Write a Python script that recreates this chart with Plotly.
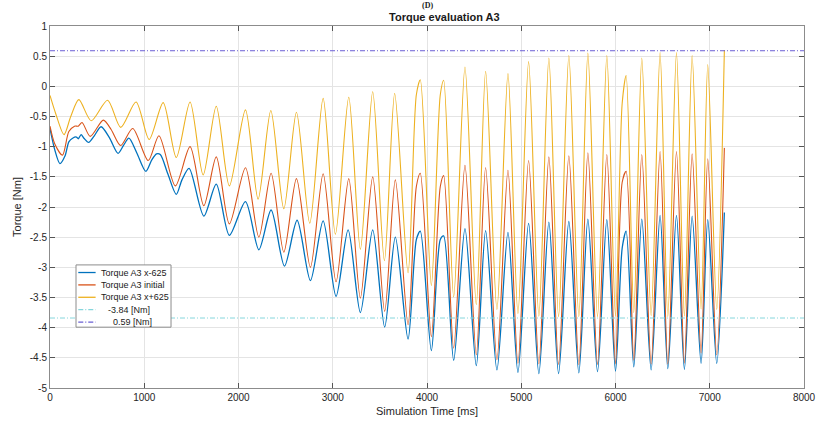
import plotly.graph_objects as go

# Torque A3 (time in ms, torque in Nm)
t_minus = [0, 50, 105, 160, 200, 240, 280, 300, 330, 360, 410, 470, 542, 630, 722, 780, 837, 920,
           1017, 1080, 1130, 1170, 1250, 1340, 1400, 1476, 1632, 1764, 1903, 2074, 2216, 2346, 2488,
           2622, 2763, 2898, 3035, 3163, 3293, 3424, 3551, 3664, 3799, 3887, 3929, 4046, 4141, 4177,
           4283, 4403, 4523, 4622, 4742, 4859, 4965, 5078, 5187, 5293, 5396, 5505, 5611, 5707, 5809,
           5908, 6000, 6071, 6113, 6194, 6279, 6378, 6473, 6555, 6647, 6731, 6813, 6908, 6979, 7074, 7155]
torque_minus = [-0.70, -1.05, -1.28, -1.15, -0.92, -0.86, -0.84, -0.87, -0.80, -0.86, -0.93, -0.82,
                -0.67, -0.85, -1.11, -0.98, -0.86, -1.10, -1.41, -1.22, -1.12, -1.13, -1.45, -1.79,
                -1.55, -1.36, -2.15, -1.62, -2.47, -1.91, -2.71, -2.05, -2.98, -2.22, -3.22, -2.23,
                -3.48, -2.38, -3.75, -2.38, -3.99, -2.50, -4.19, -2.54, -2.40, -4.38, -2.54, -2.48,
                -4.54, -2.36, -4.63, -2.39, -4.70, -2.42, -4.74, -2.27, -4.76, -2.25, -4.76, -2.24,
                -4.75, -2.20, -4.73, -2.21, -4.72, -2.68, -2.40, -4.65, -2.20, -4.70, -2.14, -4.68,
                -2.14, -4.69, -2.15, -4.59, -2.21, -4.59, -2.09]

t_initial = [0, 50, 132, 200, 260, 300, 340, 427, 566, 650, 750, 878, 1042, 1156, 1330, 1486, 1632,
             1764, 1903, 2074, 2216, 2346, 2481, 2615, 2763, 2898, 3035, 3170, 3293, 3424, 3551, 3664,
             3799, 3887, 3929, 4046, 4141, 4177, 4283, 4403, 4523, 4622, 4742, 4859, 4965, 5078, 5187,
             5293, 5396, 5505, 5611, 5707, 5809, 5908, 6000, 6071, 6113, 6194, 6279, 6378, 6473, 6555,
             6647, 6731, 6813, 6908, 6979, 7074, 7155]
torque_initial = [-0.66, -0.95, -1.14, -0.75, -0.66, -0.66, -0.60, -0.83, -0.56, -0.72, -0.98, -0.70,
                  -1.23, -0.82, -1.65, -1.00, -1.98, -1.17, -2.28, -1.35, -2.50, -1.44, -2.75, -1.53,
                  -3.00, -1.45, -3.24, -1.53, -3.51, -1.50, -3.73, -1.55, -3.95, -1.66, -1.44, -4.15,
                  -1.66, -1.48, -4.34, -1.31, -4.45, -1.35, -4.53, -1.39, -4.59, -1.23, -4.60, -1.17,
                  -4.61, -1.15, -4.61, -1.10, -4.61, -1.13, -4.60, -1.59, -1.41, -4.54, -1.13, -4.60,
                  -1.08, -4.60, -1.08, -4.59, -1.12, -4.42, -1.20, -4.45, -1.02]

t_plus = [0, 60, 149, 220, 306, 437, 611, 750, 913, 1052, 1201, 1340, 1486, 1625, 1764, 1903, 2074,
          2208, 2343, 2481, 2615, 2756, 2898, 3028, 3170, 3293, 3424, 3548, 3657, 3799, 3887, 3929,
          4046, 4141, 4177, 4283, 4403, 4523, 4622, 4742, 4859, 4965, 5078, 5187, 5293, 5396, 5505,
          5611, 5707, 5809, 5908, 6000, 6071, 6113, 6194, 6279, 6378, 6473, 6555, 6647, 6731, 6813,
          6908, 6979, 7074, 7155]
torque_plus = [-0.15, -0.45, -0.80, -0.50, -0.22, -0.57, -0.23, -0.68, -0.26, -0.88, -0.27, -1.18,
               -0.26, -1.47, -0.33, -1.65, -0.39, -1.87, -0.40, -2.03, -0.43, -2.27, -0.20, -2.45,
               -0.18, -2.70, -0.09, -2.89, -0.12, -3.09, -0.14, 0.11, -3.30, -0.14, 0.10, -3.49,
               0.32, -3.62, 0.25, -3.70, 0.21, -3.77, 0.41, -3.81, 0.47, -3.82, 0.51, -3.82, 0.55,
               -3.82, 0.51, -3.81, -0.28, 0.18, -3.75, 0.47, -3.80, 0.56, -3.82, 0.56, -3.81, 0.51,
               -3.69, 0.36, -3.70, 0.60]

limit_values = [-3.84, 0.59]
limit_names = ["-3.84 [Nm]", "0.59 [Nm]"]
limit_span = [0, 8000]

y_ticks = [1, 0.5, 0, -0.5, -1, -1.5, -2, -2.5, -3, -3.5, -4, -4.5, -5]
y_ticktext = ["1", "0.5", "0", "-0.5", "-1", "-1.5", "-2", "-2.5", "-3", "-3.5", "-4", "-4.5", "-5"]

series_names = ['Torque A3 x-625', 'Torque A3 initial', 'Torque A3 x+625']
series_colors = ['#0072BD', '#D95319', '#EDB120']
limit_colors = ['#86d6dc', '#6a5fd4']
DASHDOT = '5px,2px,1px,2px'

fig = go.Figure()

for t, tq, name, color, w in zip([t_minus, t_initial, t_plus],
                                 [torque_minus, torque_initial, torque_plus],
                                 series_names, series_colors, [1.3, 1.1, 1.1]):
    fig.add_trace(go.Scatter(x=t, y=tq, mode='lines', name=name, showlegend=False,
                             line=dict(color=color, width=w, shape='spline', smoothing=0.8)))

# Limit lines
for value, name, color in zip(limit_values, limit_names, limit_colors):
    fig.add_trace(go.Scatter(x=limit_span, y=[value, value], mode='lines', name=name, showlegend=False,
                             line=dict(color=color, width=1, dash=DASHDOT)))

axis_style = dict(
    showgrid=True, gridcolor='#e4e4e4', gridwidth=1,
    showline=True, linecolor='#8c8c8c', linewidth=1, mirror='allticks',
    ticks='inside', ticklen=5, tickcolor='#555555',
    tickfont=dict(size=10, color='#262626'),
    zeroline=False, automargin=False,
)

fig.update_layout(
    width=818, height=421,
    margin=dict(l=50, r=14, t=26, b=33),
    paper_bgcolor='white', plot_bgcolor='white',
    font=dict(family='Liberation Sans, Arial, sans-serif', color='#262626'),
    title=dict(text='<b>Torque evaluation A3</b>', x=0.523, xref='paper', xanchor='center',
               y=0.9584, yanchor='middle', font=dict(size=11, color='#1a1a1a')),
    xaxis=dict(axis_style, range=[0, 8000], tick0=0, dtick=1000,
               title=dict(text='Simulation Time [ms]', font=dict(size=11), standoff=5)),
    yaxis=dict(axis_style, range=[-5, 1], tickvals=y_ticks, ticktext=y_ticktext,
               title=dict(text='Torque [Nm]', font=dict(size=11), standoff=5)),
    showlegend=False,
)

# Compact MATLAB-style legend box (paper coordinates of the plot area)
box_x0, box_x1, box_y1, box_y0 = 0.0345, 0.1605, 0.34, 0.168
row_h = 0.0342
shapes = [dict(type='rect', xref='paper', yref='paper', x0=box_x0, x1=box_x1, y0=box_y0, y1=box_y1,
               fillcolor='white', line=dict(color='#8c8c8c', width=1), layer='above')]
entries = list(zip(series_names, series_colors, ['solid'] * 3, [0, 0, 0])) + \
          list(zip(limit_names, limit_colors, [DASHDOT] * 2, [7, 12]))
for i, (name, color, dash, indent) in enumerate(entries):
    yc = box_y1 - 0.021 - i * row_h
    shapes.append(dict(type='line', xref='paper', yref='paper', x0=0.0375, x1=0.0605, y0=yc, y1=yc,
                       line=dict(color=color, width=1.3, dash=dash), layer='above'))
    fig.add_annotation(text=name, xref='paper', yref='paper', x=0.0650 + indent / 754, y=yc,
                       xanchor='left', yanchor='middle', showarrow=False,
                       font=dict(size=9, color='#1a1a1a'))
fig.update_layout(shapes=shapes)

# Panel label above the title
fig.add_annotation(text='<b>(D)</b>', xref='paper', yref='paper', x=0.5, y=1.0718,
                   yanchor='top', showarrow=False, borderpad=0,
                   font=dict(family='Liberation Serif, serif', size=8, color='#1a1a1a'))

# drop the default page margin so the figure sits at the window's top-left corner
fig.write_html("out.html", config={'displayModeBar': False},
               post_script="document.body.style.margin='0';")
